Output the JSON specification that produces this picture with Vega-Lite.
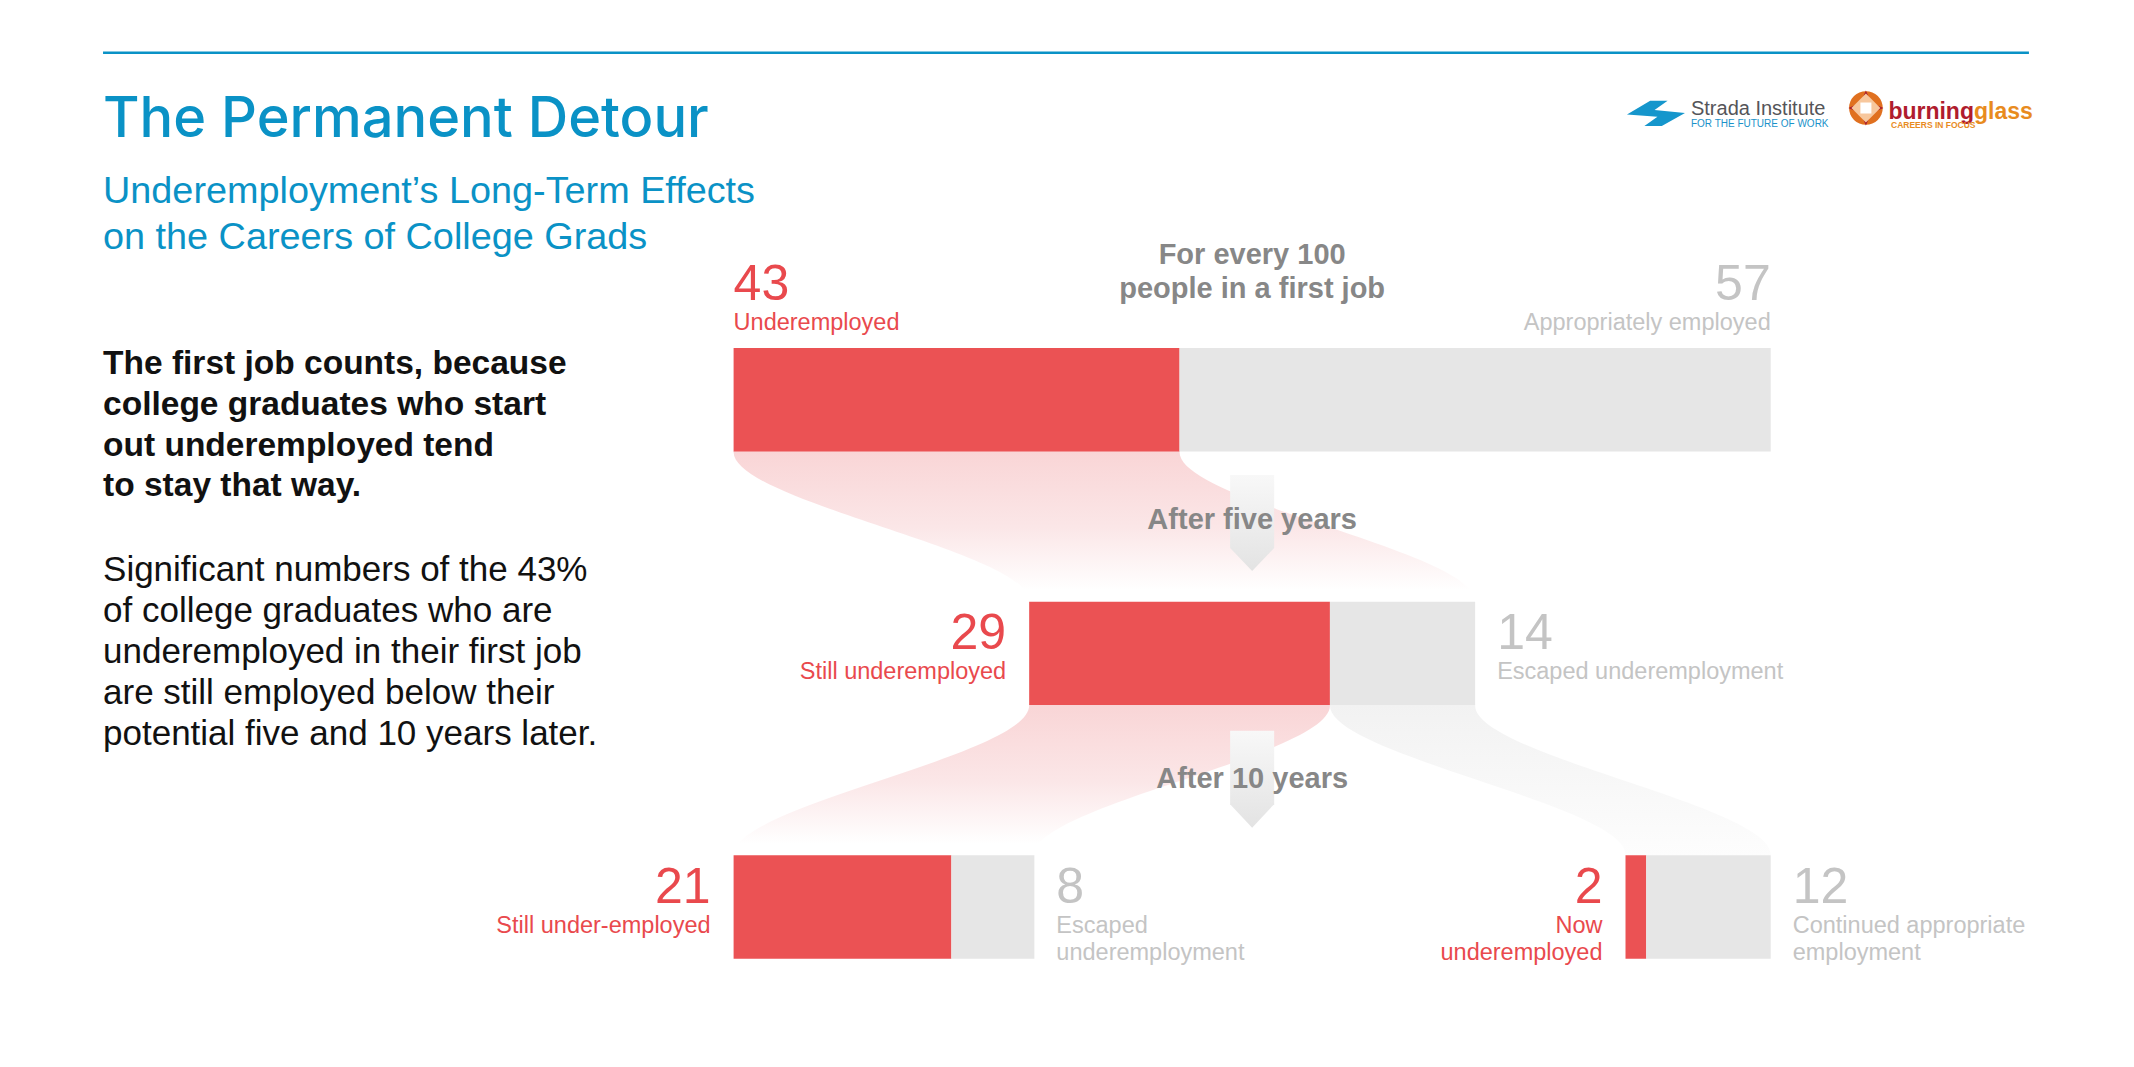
{
  "$schema": "https://vega.github.io/schema/vega-lite/v6.json",
  "width": 2134,
  "height": 1067,
  "autosize": {"type": "fit", "contains": "padding"},
  "padding": 0,
  "background": "#ffffff",
  "config": {"view": {"stroke": null}, "text": {"font": "Liberation Sans"}},
  "datasets": {
    "segments": [
      {"year": 0, "status": "under", "label": "Underemployed", "start": 0, "end": 43, "value": 43},
      {"year": 0, "status": "appropriate", "label": "Appropriately employed", "start": 43, "end": 100, "value": 57},
      {"year": 5, "status": "under", "label": "Still underemployed", "start": 28.5, "end": 57.5, "value": 29},
      {"year": 5, "status": "appropriate", "label": "Escaped underemployment", "start": 57.5, "end": 71.5, "value": 14},
      {"year": 10, "status": "under", "label": "Still under-employed", "start": 0, "end": 21, "value": 21},
      {"year": 10, "status": "appropriate", "label": "Escaped\nunderemployment", "start": 21, "end": 29, "value": 8},
      {"year": 10, "status": "under", "label": "Now \nunderemployed", "start": 86, "end": 88, "value": 2},
      {"year": 10, "status": "appropriate", "label": "Continued appropriate\nemployment", "start": 88, "end": 100, "value": 12}
    ],
    "flows": [
      {"flow": "first-to-five", "kind": "under", "t": 1.01, "left": 0, "right": 43},
      {"flow": "first-to-five", "kind": "under", "t": 1.03, "left": 0, "right": 43},
      {"flow": "first-to-five", "kind": "under", "t": 3.97, "left": 28.5, "right": 71.5},
      {"flow": "first-to-five", "kind": "under", "t": 3.99, "left": 28.5, "right": 71.5},
      {"flow": "five-to-ten-under", "kind": "under", "t": 6.01, "left": 28.5, "right": 57.5},
      {"flow": "five-to-ten-under", "kind": "under", "t": 6.03, "left": 28.5, "right": 57.5},
      {"flow": "five-to-ten-under", "kind": "under", "t": 8.97, "left": 0, "right": 29},
      {"flow": "five-to-ten-under", "kind": "under", "t": 8.99, "left": 0, "right": 29},
      {"flow": "five-to-ten-escaped", "kind": "appropriate", "t": 6.01, "left": 57.5, "right": 71.5},
      {"flow": "five-to-ten-escaped", "kind": "appropriate", "t": 6.03, "left": 57.5, "right": 71.5},
      {"flow": "five-to-ten-escaped", "kind": "appropriate", "t": 8.97, "left": 86, "right": 100},
      {"flow": "five-to-ten-escaped", "kind": "appropriate", "t": 8.99, "left": 86, "right": 100}
    ],
    "transitions": [
      {"text": "After five years", "year": 2.5},
      {"text": "After 10 years", "year": 7.5}
    ],
    "notes": [
      {"id": "title", "text": "The Permanent Detour"},
      {"id": "subtitle", "text": "Underemployment’s Long-Term Effects\non the Careers of College Grads"},
      {"id": "lead", "text": "The first job counts, because\ncollege graduates who start\nout underemployed tend\nto stay that way."},
      {"id": "body", "text": "Significant numbers of the 43%\nof college graduates who are\nunderemployed in their first job\nare still employed below their\npotential five and 10 years later."},
      {"id": "header", "text": "For every 100\npeople in a first job"},
      {"id": "strada", "text": "Strada Institute"},
      {"id": "stradaTag", "text": "FOR THE FUTURE OF WORK"},
      {"id": "burning", "text": "burning"},
      {"id": "glass", "text": "glass"},
      {"id": "careers", "text": "CAREERS IN FOCUS"}
    ]
  },
  "layer": [
    {
      "data": {"name": "flows"},
      "transform": [{"filter": "datum.kind == 'under'"}],
      "mark": {"type": "area", "orient": "horizontal", "interpolate": "monotone", "opacity": 1,
        "fill": {"gradient": "linear", "x1": 0, "y1": 0, "x2": 0, "y2": 1,
          "stops": [{"offset": 0, "color": "#f9d5d6"}, {"offset": 0.5, "color": "#fbe6e7"}, {"offset": 0.92, "color": "#ffffff"}]}},
      "encoding": {
        "y": {"field": "t", "type": "quantitative", "scale": {"domain": [-7.783, 13.057], "nice": false, "zero": false, "reverse": true}, "axis": null},
        "x": {"field": "left", "type": "quantitative", "scale": {"domain": [-70.735, 135.03], "nice": false, "zero": false}, "axis": null},
        "x2": {"field": "right"},
        "detail": {"field": "flow"}
      }
    },
    {
      "data": {"name": "flows"},
      "transform": [{"filter": "datum.kind == 'appropriate'"}],
      "mark": {"type": "area", "orient": "horizontal", "interpolate": "monotone", "opacity": 1,
        "fill": {"gradient": "linear", "x1": 0, "y1": 0, "x2": 0, "y2": 1,
          "stops": [{"offset": 0, "color": "#f2f2f2"}, {"offset": 1, "color": "#fdfdfd"}]}},
      "encoding": {
        "y": {"field": "t", "type": "quantitative", "scale": {"domain": [-7.783, 13.057], "nice": false, "zero": false, "reverse": true}, "axis": null},
        "x": {"field": "left", "type": "quantitative", "scale": {"domain": [-70.735, 135.03], "nice": false, "zero": false}, "axis": null},
        "x2": {"field": "right"},
        "detail": {"field": "flow"}
      }
    },
    {
      "data": {"name": "transitions"},
      "transform": [{"filter": "datum.year < 5"}],
      "mark": {"type": "point", "shape": "M -0.454 -1.062 L 0.454 -1.062 L 0.454 0.443 L 0 0.918 L -0.454 0.443 Z", "size": 9409, "filled": true, "opacity": 1, "strokeWidth": 0,
        "fill": {"gradient": "linear", "x1": 0, "y1": 0, "x2": 0, "y2": 1,
          "stops": [{"offset": 0, "color": "#f8f8f8"}, {"offset": 1, "color": "#e3e3e3"}]}},
      "encoding": {
        "x": {"datum": 50, "type": "quantitative", "scale": {"domain": [-70.735, 135.03], "nice": false, "zero": false}, "axis": null},
        "y": {"field": "year", "type": "quantitative", "scale": {"domain": [-7.783, 13.057], "nice": false, "zero": false, "reverse": true}, "axis": null}
      }
    },
    {
      "data": {"name": "transitions"},
      "transform": [{"filter": "datum.year > 5"}],
      "mark": {"type": "point", "shape": "M -0.454 -1.02 L 0.454 -1.02 L 0.454 0.495 L 0 0.98 L -0.454 0.495 Z", "size": 9409, "filled": true, "opacity": 1, "strokeWidth": 0,
        "fill": {"gradient": "linear", "x1": 0, "y1": 0, "x2": 0, "y2": 1,
          "stops": [{"offset": 0, "color": "#f8f8f8"}, {"offset": 1, "color": "#e3e3e3"}]}},
      "encoding": {
        "x": {"datum": 50, "type": "quantitative", "scale": {"domain": [-70.735, 135.03], "nice": false, "zero": false}, "axis": null},
        "y": {"field": "year", "type": "quantitative", "scale": {"domain": [-7.783, 13.057], "nice": false, "zero": false, "reverse": true}, "axis": null}
      }
    },
    {
      "data": {"name": "segments"},
      "mark": {"type": "bar", "orient": "horizontal", "height": 103.4},
      "encoding": {
        "y": {"field": "year", "type": "quantitative", "scale": {"domain": [-7.783, 13.057], "nice": false, "zero": false, "reverse": true}, "axis": null},
        "x": {"field": "start", "type": "quantitative", "scale": {"domain": [-70.735, 135.03], "nice": false, "zero": false}, "axis": null},
        "x2": {"field": "end"},
        "color": {"field": "status", "type": "nominal", "scale": {"domain": ["under", "appropriate"], "range": ["#eb5254", "#e6e6e6"]}, "legend": null}
      }
    },
    {
      "data": {"name": "segments"},
      "transform": [{"filter": "datum.year == 0 && datum.status == 'under'"}],
      "mark": {"type": "text", "align": "left", "baseline": "alphabetic", "fontSize": 50, "color": "#e9494d", "dy": -99.5},
      "encoding": {
        "y": {"field": "year", "type": "quantitative", "scale": {"domain": [-7.783, 13.057], "nice": false, "zero": false, "reverse": true}, "axis": null},
        "x": {"field": "start", "type": "quantitative", "scale": {"domain": [-70.735, 135.03], "nice": false, "zero": false}, "axis": null},
        "text": {"field": "value"}
      }
    },
    {
      "data": {"name": "segments"},
      "transform": [{"filter": "datum.year == 0 && datum.status == 'under'"}],
      "mark": {"type": "text", "align": "left", "baseline": "alphabetic", "fontSize": 23.5, "color": "#e9494d", "dy": -69.5},
      "encoding": {
        "y": {"field": "year", "type": "quantitative", "scale": {"domain": [-7.783, 13.057], "nice": false, "zero": false, "reverse": true}, "axis": null},
        "x": {"field": "start", "type": "quantitative", "scale": {"domain": [-70.735, 135.03], "nice": false, "zero": false}, "axis": null},
        "text": {"field": "label"}
      }
    },
    {
      "data": {"name": "segments"},
      "transform": [{"filter": "datum.year == 0 && datum.status == 'appropriate'"}],
      "mark": {"type": "text", "align": "right", "baseline": "alphabetic", "fontSize": 50, "color": "#c4c4c4", "dy": -99.5},
      "encoding": {
        "y": {"field": "year", "type": "quantitative", "scale": {"domain": [-7.783, 13.057], "nice": false, "zero": false, "reverse": true}, "axis": null},
        "x": {"field": "end", "type": "quantitative", "scale": {"domain": [-70.735, 135.03], "nice": false, "zero": false}, "axis": null},
        "text": {"field": "value"}
      }
    },
    {
      "data": {"name": "segments"},
      "transform": [{"filter": "datum.year == 0 && datum.status == 'appropriate'"}],
      "mark": {"type": "text", "align": "right", "baseline": "alphabetic", "fontSize": 23.5, "color": "#c4c4c4", "dy": -69.5},
      "encoding": {
        "y": {"field": "year", "type": "quantitative", "scale": {"domain": [-7.783, 13.057], "nice": false, "zero": false, "reverse": true}, "axis": null},
        "x": {"field": "end", "type": "quantitative", "scale": {"domain": [-70.735, 135.03], "nice": false, "zero": false}, "axis": null},
        "text": {"field": "label"}
      }
    },
    {
      "data": {"name": "segments"},
      "transform": [{"filter": "datum.year > 0 && datum.status == 'under'"}],
      "mark": {"type": "text", "align": "right", "baseline": "alphabetic", "fontSize": 50, "color": "#e9494d", "dx": -23, "dy": -4},
      "encoding": {
        "y": {"field": "year", "type": "quantitative", "scale": {"domain": [-7.783, 13.057], "nice": false, "zero": false, "reverse": true}, "axis": null},
        "x": {"field": "start", "type": "quantitative", "scale": {"domain": [-70.735, 135.03], "nice": false, "zero": false}, "axis": null},
        "text": {"field": "value"}
      }
    },
    {
      "data": {"name": "segments"},
      "transform": [{"filter": "datum.year > 0 && datum.status == 'under'"}],
      "mark": {"type": "text", "align": "right", "baseline": "alphabetic", "fontSize": 23.5, "color": "#e9494d", "dx": -23, "dy": 26, "lineBreak": "\n", "lineHeight": 27},
      "encoding": {
        "y": {"field": "year", "type": "quantitative", "scale": {"domain": [-7.783, 13.057], "nice": false, "zero": false, "reverse": true}, "axis": null},
        "x": {"field": "start", "type": "quantitative", "scale": {"domain": [-70.735, 135.03], "nice": false, "zero": false}, "axis": null},
        "text": {"field": "label"}
      }
    },
    {
      "data": {"name": "segments"},
      "transform": [{"filter": "datum.year > 0 && datum.status == 'appropriate'"}],
      "mark": {"type": "text", "align": "left", "baseline": "alphabetic", "fontSize": 50, "color": "#c4c4c4", "dx": 22, "dy": -4},
      "encoding": {
        "y": {"field": "year", "type": "quantitative", "scale": {"domain": [-7.783, 13.057], "nice": false, "zero": false, "reverse": true}, "axis": null},
        "x": {"field": "end", "type": "quantitative", "scale": {"domain": [-70.735, 135.03], "nice": false, "zero": false}, "axis": null},
        "text": {"field": "value"}
      }
    },
    {
      "data": {"name": "segments"},
      "transform": [{"filter": "datum.year > 0 && datum.status == 'appropriate'"}],
      "mark": {"type": "text", "align": "left", "baseline": "alphabetic", "fontSize": 23.5, "color": "#c4c4c4", "dx": 22, "dy": 26, "lineBreak": "\n", "lineHeight": 27},
      "encoding": {
        "y": {"field": "year", "type": "quantitative", "scale": {"domain": [-7.783, 13.057], "nice": false, "zero": false, "reverse": true}, "axis": null},
        "x": {"field": "end", "type": "quantitative", "scale": {"domain": [-70.735, 135.03], "nice": false, "zero": false}, "axis": null},
        "text": {"field": "label"}
      }
    },
    {
      "data": {"name": "transitions"},
      "transform": [{"filter": "datum.year < 5"}],
      "mark": {"type": "text", "align": "center", "baseline": "alphabetic", "fontSize": 29, "fontWeight": "bold", "color": "#878787", "dy": 2},
      "encoding": {
        "x": {"datum": 50, "type": "quantitative", "scale": {"domain": [-70.735, 135.03], "nice": false, "zero": false}, "axis": null},
        "y": {"field": "year", "type": "quantitative", "scale": {"domain": [-7.783, 13.057], "nice": false, "zero": false, "reverse": true}, "axis": null},
        "text": {"field": "text"}
      }
    },
    {
      "data": {"name": "transitions"},
      "transform": [{"filter": "datum.year > 5"}],
      "mark": {"type": "text", "align": "center", "baseline": "alphabetic", "fontSize": 29, "fontWeight": "bold", "color": "#878787", "dy": 8},
      "encoding": {
        "x": {"datum": 50, "type": "quantitative", "scale": {"domain": [-70.735, 135.03], "nice": false, "zero": false}, "axis": null},
        "y": {"field": "year", "type": "quantitative", "scale": {"domain": [-7.783, 13.057], "nice": false, "zero": false, "reverse": true}, "axis": null},
        "text": {"field": "text"}
      }
    },
    {
      "data": {"name": "notes"},
      "transform": [{"filter": "datum.id == 'header'"}],
      "mark": {"type": "text", "align": "center", "baseline": "alphabetic", "fontSize": 29, "fontWeight": "bold", "color": "#878787", "lineBreak": "\n", "lineHeight": 34},
      "encoding": {
        "x": {"datum": 50, "type": "quantitative", "scale": {"domain": [-70.735, 135.03], "nice": false, "zero": false}, "axis": null},
        "y": {"datum": -2.686, "type": "quantitative", "scale": {"domain": [-7.783, 13.057], "nice": false, "zero": false, "reverse": true}, "axis": null},
        "text": {"field": "text"}
      }
    },
    {
      "data": {"name": "notes"},
      "transform": [{"filter": "datum.id == 'title'"}],
      "mark": {"type": "text", "align": "left", "baseline": "alphabetic", "fontSize": 56, "font": "Inter", "fontWeight": 500, "color": "#0a92c6"},
      "encoding": {
        "x": {"datum": -60.8, "type": "quantitative", "scale": {"domain": [-70.735, 135.03], "nice": false, "zero": false}, "axis": null},
        "y": {"datum": -5.186, "type": "quantitative", "scale": {"domain": [-7.783, 13.057], "nice": false, "zero": false, "reverse": true}, "axis": null},
        "text": {"field": "text"}
      }
    },
    {
      "data": {"name": "notes"},
      "transform": [{"filter": "datum.id == 'subtitle'"}],
      "mark": {"type": "text", "align": "left", "baseline": "alphabetic", "fontSize": 37.8, "color": "#0a92c6", "lineBreak": "\n", "lineHeight": 46},
      "encoding": {
        "x": {"datum": -60.8, "type": "quantitative", "scale": {"domain": [-70.735, 135.03], "nice": false, "zero": false}, "axis": null},
        "y": {"datum": -3.877, "type": "quantitative", "scale": {"domain": [-7.783, 13.057], "nice": false, "zero": false, "reverse": true}, "axis": null},
        "text": {"field": "text"}
      }
    },
    {
      "data": {"name": "notes"},
      "transform": [{"filter": "datum.id == 'lead'"}],
      "mark": {"type": "text", "align": "left", "baseline": "alphabetic", "fontSize": 33.5, "fontWeight": "bold", "color": "#111111", "lineBreak": "\n", "lineHeight": 40.8},
      "encoding": {
        "x": {"datum": -60.8, "type": "quantitative", "scale": {"domain": [-70.735, 135.03], "nice": false, "zero": false}, "axis": null},
        "y": {"datum": -0.508, "type": "quantitative", "scale": {"domain": [-7.783, 13.057], "nice": false, "zero": false, "reverse": true}, "axis": null},
        "text": {"field": "text"}
      }
    },
    {
      "data": {"name": "notes"},
      "transform": [{"filter": "datum.id == 'body'"}],
      "mark": {"type": "text", "align": "left", "baseline": "alphabetic", "fontSize": 35, "color": "#111111", "lineBreak": "\n", "lineHeight": 41},
      "encoding": {
        "x": {"datum": -60.8, "type": "quantitative", "scale": {"domain": [-70.735, 135.03], "nice": false, "zero": false}, "axis": null},
        "y": {"datum": 3.564, "type": "quantitative", "scale": {"domain": [-7.783, 13.057], "nice": false, "zero": false, "reverse": true}, "axis": null},
        "text": {"field": "text"}
      }
    },
    {
      "data": {"name": "notes"},
      "transform": [{"filter": "datum.id == 'strada'"}],
      "mark": {"type": "text", "align": "left", "baseline": "alphabetic", "fontSize": 20, "color": "#555559"},
      "encoding": {
        "x": {"datum": 92.31, "type": "quantitative", "scale": {"domain": [-70.735, 135.03], "nice": false, "zero": false}, "axis": null},
        "y": {"datum": -5.615, "type": "quantitative", "scale": {"domain": [-7.783, 13.057], "nice": false, "zero": false, "reverse": true}, "axis": null},
        "text": {"field": "text"}
      }
    },
    {
      "data": {"name": "notes"},
      "transform": [{"filter": "datum.id == 'stradaTag'"}],
      "mark": {"type": "text", "align": "left", "baseline": "alphabetic", "fontSize": 10, "color": "#1a92c9"},
      "encoding": {
        "x": {"datum": 92.31, "type": "quantitative", "scale": {"domain": [-70.735, 135.03], "nice": false, "zero": false}, "axis": null},
        "y": {"datum": -5.387, "type": "quantitative", "scale": {"domain": [-7.783, 13.057], "nice": false, "zero": false, "reverse": true}, "axis": null},
        "text": {"field": "text"}
      }
    },
    {
      "data": {"name": "notes"},
      "transform": [{"filter": "datum.id == 'burning'"}],
      "mark": {"type": "text", "align": "right", "baseline": "alphabetic", "fontSize": 23, "fontWeight": "bold", "color": "#b01c2e"},
      "encoding": {
        "x": {"datum": 119.6, "type": "quantitative", "scale": {"domain": [-70.735, 135.03], "nice": false, "zero": false}, "axis": null},
        "y": {"datum": -5.537, "type": "quantitative", "scale": {"domain": [-7.783, 13.057], "nice": false, "zero": false, "reverse": true}, "axis": null},
        "text": {"field": "text"}
      }
    },
    {
      "data": {"name": "notes"},
      "transform": [{"filter": "datum.id == 'glass'"}],
      "mark": {"type": "text", "align": "left", "baseline": "alphabetic", "fontSize": 23, "fontWeight": "bold", "color": "#e88b1e"},
      "encoding": {
        "x": {"datum": 119.6, "type": "quantitative", "scale": {"domain": [-70.735, 135.03], "nice": false, "zero": false}, "axis": null},
        "y": {"datum": -5.537, "type": "quantitative", "scale": {"domain": [-7.783, 13.057], "nice": false, "zero": false, "reverse": true}, "axis": null},
        "text": {"field": "text"}
      }
    },
    {
      "data": {"name": "notes"},
      "transform": [{"filter": "datum.id == 'careers'"}],
      "mark": {"type": "text", "align": "left", "baseline": "alphabetic", "fontSize": 8.5, "fontWeight": "bold", "color": "#e88b1e"},
      "encoding": {
        "x": {"datum": 111.6, "type": "quantitative", "scale": {"domain": [-70.735, 135.03], "nice": false, "zero": false}, "axis": null},
        "y": {"datum": -5.357, "type": "quantitative", "scale": {"domain": [-7.783, 13.057], "nice": false, "zero": false, "reverse": true}, "axis": null},
        "text": {"field": "text"}
      }
    },
    {
      "data": {"name": "notes"},
      "transform": [{"filter": "datum.id == 'title'"}],
      "mark": {"type": "rule", "color": "#0a92c6", "strokeWidth": 2.5},
      "encoding": {
        "x": {"datum": -60.8, "type": "quantitative", "scale": {"domain": [-70.735, 135.03], "nice": false, "zero": false}, "axis": null},
        "x2": {"datum": 124.9},
        "y": {"datum": -6.84, "type": "quantitative", "scale": {"domain": [-7.783, 13.057], "nice": false, "zero": false, "reverse": true}, "axis": null}
      }
    },
    {
      "data": {"name": "notes"},
      "transform": [{"filter": "datum.id == 'strada'"}],
      "mark": {"type": "point", "shape": "M -1 0.05 L -0.2 -0.42 L 0.4 -0.42 L -0.05 -0.1 L 1 0 L 0.2 0.45 L -0.4 0.45 L 0.05 0.13 Z", "size": 3364, "filled": true, "opacity": 1, "color": "#1596cc", "strokeWidth": 0},
      "encoding": {
        "x": {"datum": 88.94, "type": "quantitative", "scale": {"domain": [-70.735, 135.03], "nice": false, "zero": false}, "axis": null},
        "y": {"datum": -5.654, "type": "quantitative", "scale": {"domain": [-7.783, 13.057], "nice": false, "zero": false, "reverse": true}, "axis": null}
      }
    },
    {
      "data": {"name": "notes"},
      "transform": [{"filter": "datum.id == 'burning'"}],
      "mark": {"type": "point", "shape": "circle", "size": 1134, "filled": true, "opacity": 1, "color": "#e0701f", "strokeWidth": 0},
      "encoding": {
        "x": {"datum": 109.18, "type": "quantitative", "scale": {"domain": [-70.735, 135.03], "nice": false, "zero": false}, "axis": null},
        "y": {"datum": -5.752, "type": "quantitative", "scale": {"domain": [-7.783, 13.057], "nice": false, "zero": false, "reverse": true}, "axis": null}
      }
    },
    {
      "data": {"name": "notes"},
      "transform": [{"filter": "datum.id == 'burning'"}],
      "mark": {"type": "point", "shape": "M 0 -1 L 0.3 -0.3 L 1 0 L 0.3 0.3 L 0 1 L -0.3 0.3 L -1 0 L -0.3 -0.3 Z", "size": 1225, "filled": true, "opacity": 1, "color": "#a8192c", "strokeWidth": 0},
      "encoding": {
        "x": {"datum": 109.18, "type": "quantitative", "scale": {"domain": [-70.735, 135.03], "nice": false, "zero": false}, "axis": null},
        "y": {"datum": -5.752, "type": "quantitative", "scale": {"domain": [-7.783, 13.057], "nice": false, "zero": false, "reverse": true}, "axis": null}
      }
    },
    {
      "data": {"name": "notes"},
      "transform": [{"filter": "datum.id == 'burning'"}],
      "mark": {"type": "point", "shape": "square", "size": 420, "angle": 45, "filled": true, "opacity": 1, "color": "#f7c79d", "strokeWidth": 0},
      "encoding": {
        "x": {"datum": 109.18, "type": "quantitative", "scale": {"domain": [-70.735, 135.03], "nice": false, "zero": false}, "axis": null},
        "y": {"datum": -5.752, "type": "quantitative", "scale": {"domain": [-7.783, 13.057], "nice": false, "zero": false, "reverse": true}, "axis": null}
      }
    },
    {
      "data": {"name": "notes"},
      "transform": [{"filter": "datum.id == 'burning'"}],
      "mark": {"type": "point", "shape": "square", "size": 121, "filled": true, "opacity": 1, "color": "#ffffff", "strokeWidth": 0},
      "encoding": {
        "x": {"datum": 109.18, "type": "quantitative", "scale": {"domain": [-70.735, 135.03], "nice": false, "zero": false}, "axis": null},
        "y": {"datum": -5.752, "type": "quantitative", "scale": {"domain": [-7.783, 13.057], "nice": false, "zero": false, "reverse": true}, "axis": null}
      }
    }
  ]
}
